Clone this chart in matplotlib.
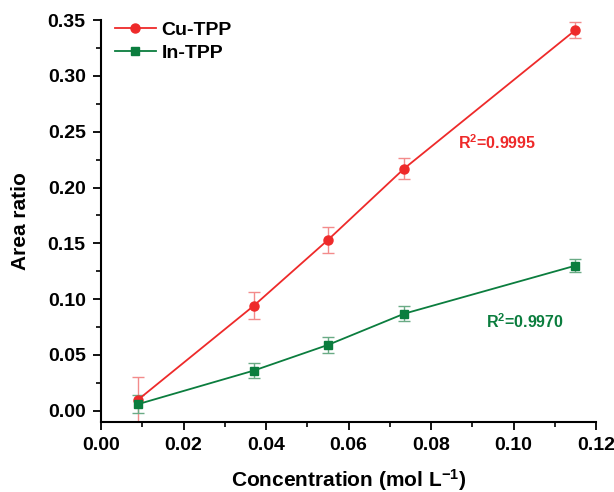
import matplotlib
matplotlib.use("Agg")
import matplotlib.pyplot as plt
from matplotlib.ticker import MultipleLocator, FormatStrFormatter

plt.rcParams['font.family'] = ['Liberation Sans', 'DejaVu Sans']
plt.rcParams['font.weight'] = 'bold'
plt.rcParams['mathtext.fontset'] = 'custom'
plt.rcParams['mathtext.rm'] = 'Liberation Sans:bold'
plt.rcParams['mathtext.bf'] = 'Liberation Sans:bold'
plt.rcParams['mathtext.default'] = 'bf'
plt.rcParams['axes.unicode_minus'] = False

conc = [0.009, 0.037, 0.055, 0.0735, 0.115]
cu_vals = [0.010, 0.094, 0.153, 0.217, 0.341]
cu_err = [0.020, 0.012, 0.012, 0.009, 0.007]
in_vals = [0.006, 0.036, 0.059, 0.087, 0.130]
in_err = [0.008, 0.007, 0.007, 0.007, 0.006]

red = '#ee2a2a'
green = '#0b7d3e'

fig = plt.figure(figsize=(6.14, 4.92), dpi=100)
ax = fig.add_axes([0.1645, 0.1423, 0.8062, 0.817])

ax.errorbar(conc, cu_vals, yerr=cu_err, fmt='none', ecolor='#f38b8b', elinewidth=1, capsize=4, capthick=1, zorder=2)
ax.errorbar(conc, in_vals, yerr=in_err, fmt='none', ecolor='#6aab85', elinewidth=1, capsize=4, capthick=1, zorder=2)
ax.plot(conc, cu_vals, '-o', color=red, lw=1.3, ms=6.5, label='Cu-TPP', zorder=3)
ax.plot(conc, in_vals, '-s', color=green, lw=1.3, ms=6, label='In-TPP', zorder=3)

ax.set_xlim(0, 0.12)
ax.set_ylim(-0.01, 0.35)
ax.xaxis.set_major_locator(MultipleLocator(0.02))
ax.xaxis.set_minor_locator(MultipleLocator(0.01))
ax.yaxis.set_major_locator(MultipleLocator(0.05))
ax.yaxis.set_minor_locator(MultipleLocator(0.025))
ax.xaxis.set_major_formatter(FormatStrFormatter('%.2f'))
ax.yaxis.set_major_formatter(FormatStrFormatter('%.2f'))

for s in ['top', 'right']:
    ax.spines[s].set_visible(False)
for s in ['left', 'bottom']:
    ax.spines[s].set_linewidth(1.5)

ax.tick_params(which='major', direction='out', length=6, width=1.3, labelsize=14, pad=5)
ax.tick_params(which='minor', direction='out', length=3.5, width=1.2)
for lab in ax.get_xticklabels() + ax.get_yticklabels():
    lab.set_fontweight('bold')

ax.set_xlabel('Concentration (mol L$^{-1}$)', fontsize=15, fontweight='bold', labelpad=9)
ax.set_ylabel('Area ratio', fontsize=15, fontweight='bold', labelpad=13)

ax.text(0.096, 0.240, 'R$^{2}$=0.9995', color=red, fontsize=11.5, fontweight='bold', ha='center', va='center')
ax.text(0.1028, 0.0797, 'R$^{2}$=0.9970', color=green, fontsize=11.5, fontweight='bold', ha='center', va='center')

leg = ax.legend(loc='upper left', frameon=False, fontsize=14, handlelength=2.1, handletextpad=0.3,
                borderaxespad=0.0, bbox_to_anchor=(0.012, 1.017), labelspacing=0.3)
for t in leg.get_texts():
    t.set_fontweight('bold')

fig.savefig('out.png', dpi=100)
